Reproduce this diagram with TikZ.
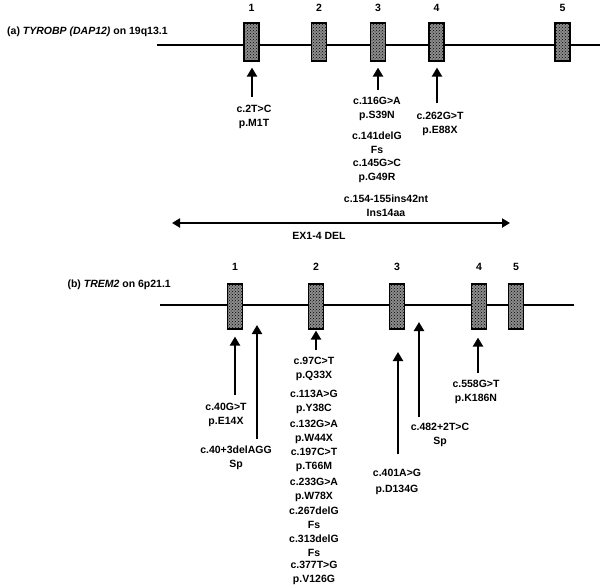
\documentclass[tikz,border=0pt]{standalone}
\usepackage{fontspec}
\setmainfont{Liberation Sans}
\usetikzlibrary{arrows.meta,patterns}

\tikzset{
  gene/.style={line width=2.2pt},
  exon/.style={draw, line width=1.2pt, fill=black!45, postaction={pattern=crosshatch dots, pattern color=black}, minimum width=15pt, inner sep=0pt},
  num/.style={inner sep=0pt},
  mut/.style={line width=2.7pt, -{Triangle[length=9pt,width=10pt]}},
  del/.style={line width=2.4pt, {Triangle[length=8pt,width=9pt]}-{Triangle[length=8pt,width=9pt]}},
  txt/.style={align=center, inner sep=0pt},
}

\begin{document}
\begin{tikzpicture}[x=1pt, y=-1pt, font=\bfseries\fontsize{10.5}{14}\selectfont]
\useasboundingbox (0,0) rectangle (600,587);

% (a) TYROBP
\node[txt, anchor=west] (titlea) at (7,32) {(a) \textit{TYROBP (DAP12)} on 19q13.1};
\draw[gene] (157,45) -- (600,45);
\foreach \n/\x in {1/251.5, 2/319, 3/378, 4/436.5, 5/562.5}
  \node[exon, minimum height=38pt, label={[num, label distance=11pt]above:\n}] (a\n) at (\x,42) {};

\coordinate (ma1) at (252,97);
\coordinate (ma3) at (378,90);
\coordinate (ma4) at (437,103);
\draw[mut, shorten >=6pt] (ma1) -- (ma1 |- a1.south);
\draw[mut, shorten >=6pt] (ma3) -- (ma3 |- a3.south);
\draw[mut, shorten >=6pt] (ma4) -- (ma4 |- a4.south);

\node[txt] (ta1) at (254,116.5) {c.2T>C\\p.M1T};
\node[txt] (ta4) at (440,123.5) {c.262G>T\\p.E88X};
\foreach \y/\lbl [count=\i] in {
	109/{c.116G>A\\p.S39N},
	143/{c.141delG\\Fs},
	170.5/{c.145G>C\\p.G49R}}
\node[txt] (ta3\i) at (377,\y) {\lbl};
\node[txt] (ta34) at (386,205.5) {c.154-155ins42nt\\Ins14aa};

\coordinate (dl) at (172,223);
\coordinate (dr) at (510,223);
\draw[del] (dl) -- (dr);
\node[txt] (tdel) at (319,236) {EX1-4 DEL};

% (b) TREM2
\node[txt, anchor=east] (titleb) at (171,285) {(b) \textit{TREM2} on 6p21.1};
\draw[gene] (160,305) -- (574,305);
\foreach \n/\x in {1/235, 2/316, 3/397, 4/479, 5/516}
  \node[exon, minimum height=45pt, label={[num, label distance=13pt]above:\n}] (b\n) at (\x,306.5) {};

\coordinate (mb1) at (235,395);
\coordinate (mb2) at (257,439);
\coordinate (ib2) at (257,325);
\coordinate (mb3) at (316,350);
\coordinate (mb4) at (398,454);
\coordinate (ib4) at (398,352);
\coordinate (mb5) at (419,417);
\coordinate (ib5) at (419,322);
\coordinate (mb6) at (478,373);
\draw[mut, shorten >=7pt] (mb1) -- (mb1 |- b1.south);
\draw[mut] (mb2) -- (ib2);
\draw[mut, shorten >=1pt] (mb3) -- (mb3 |- b2.south);
\draw[mut] (mb4) -- (ib4);
\draw[mut] (mb5) -- (ib5);
\draw[mut, shorten >=8pt] (mb6) -- (mb6 |- b4.south);

\node[txt] (tb1) at (226,414.5) {c.40G>T\\p.E14X};
\node[txt] (tb2) at (236,458) {c.40+3delAGG\\Sp};
\foreach \y/\lbl [count=\i] in {
	368.5/{c.97C>T\\p.Q33X},
	402/{c.113A>G\\p.Y38C},
	432/{c.132G>A\\p.W44X},
	459.5/{c.197C>T\\p.T66M},
	490/{c.233G>A\\p.W78X},
	518/{c.267delG\\Fs},
	545.5/{c.313delG\\Fs},
	573/{c.377T>G\\p.V126G}}
\node[txt] (tb3\i) at (314,\y) {\lbl};
\node[txt, font=\bfseries\fontsize{10.5}{16}\selectfont] (tb4) at (397,482) {c.401A>G\\p.D134G};
\node[txt] (tb5) at (440,435) {c.482+2T>C\\Sp};
\node[txt] (tb6) at (476,392) {c.558G>T\\p.K186N};

\end{tikzpicture}
\end{document}
